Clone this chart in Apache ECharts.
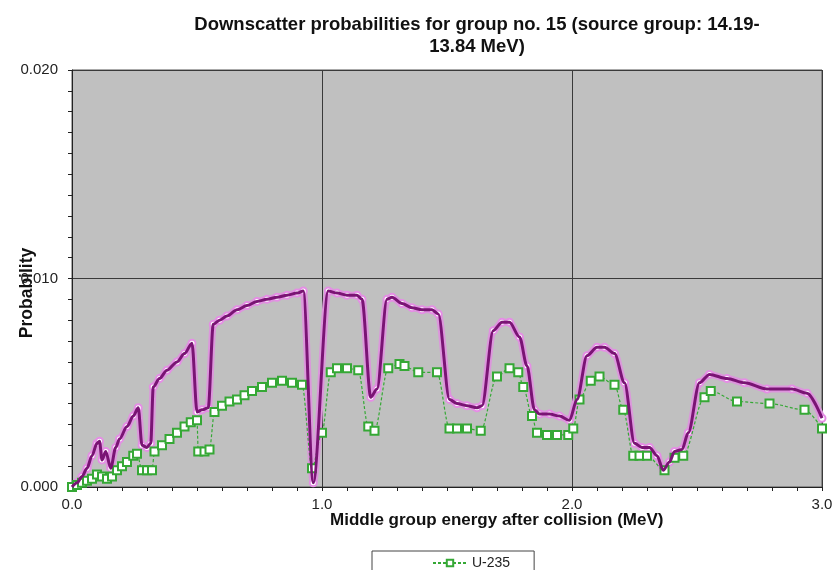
<!DOCTYPE html>
<html>
<head>
<meta charset="utf-8">
<script src="https://cdn.jsdelivr.net/npm/echarts@6/dist/echarts.min.js"></script>
<style>
  html, body { margin: 0; padding: 0; background: #ffffff; }
  #chart { width: 837px; height: 570px; }
</style>
</head>
<body>
<div id="chart"></div>
<script>
// Secondary-energy grid (MeV) and downscatter probabilities, upper curve
const upperEnergy = [
  0.00, 0.02, 0.04, 0.06, 0.08, 0.10, 0.11, 0.12, 0.135, 0.155, 0.175,
  0.19, 0.22, 0.245, 0.265, 0.28, 0.30, 0.315, 0.325, 0.35, 0.38, 0.42,
  0.45, 0.48, 0.50, 0.52, 0.545, 0.565, 0.59, 0.62, 0.66, 0.70, 0.74,
  0.78, 0.82, 0.86, 0.90, 0.925, 0.965, 1.025, 1.06, 1.10, 1.14, 1.16,
  1.195, 1.22, 1.26, 1.28, 1.32, 1.36, 1.40, 1.44, 1.465, 1.51, 1.54,
  1.58, 1.62, 1.64, 1.685, 1.72, 1.75, 1.79, 1.82, 1.85, 1.87, 1.91,
  1.95, 1.99, 2.02, 2.06, 2.10, 2.13, 2.17, 2.21, 2.25, 2.28, 2.31,
  2.34, 2.365, 2.39, 2.41, 2.44, 2.465, 2.51, 2.55, 2.62, 2.69, 2.78,
  2.88, 2.94, 3.00
];
const upperProb = [
  0.0000, 0.0002, 0.0005, 0.0009, 0.0015, 0.0021, 0.0022, 0.0013, 0.0017, 0.0009, 0.0019,
  0.0023, 0.0029, 0.0034, 0.0038, 0.0020, 0.0019, 0.0021, 0.0048, 0.0052, 0.0056, 0.0060,
  0.0064, 0.0069, 0.0036, 0.0037, 0.0038, 0.0078, 0.0080, 0.0082, 0.0085, 0.0087, 0.0089,
  0.0090, 0.0091, 0.0092, 0.0093, 0.0094, 0.0002, 0.0094, 0.0093, 0.0092, 0.0092, 0.0090,
  0.0043, 0.0047, 0.0090, 0.0091, 0.0088, 0.0086, 0.0085, 0.0085, 0.0083, 0.0042, 0.0040,
  0.0039, 0.0038, 0.0039, 0.0075, 0.0079, 0.0079, 0.0072, 0.0058, 0.0037, 0.0035, 0.0035,
  0.0034, 0.0032, 0.0042, 0.0063, 0.0067, 0.0067, 0.0064, 0.0050, 0.0021, 0.0019, 0.0019,
  0.0015, 0.0008, 0.0012, 0.0017, 0.0018, 0.0026, 0.0050, 0.0054, 0.0052, 0.0050, 0.0047,
  0.0047, 0.0045, 0.0033
];

// U-235 curve
const u235Energy = [
  0.00, 0.02, 0.04, 0.06, 0.08, 0.10, 0.12, 0.14, 0.16, 0.18, 0.20,
  0.22, 0.245, 0.26, 0.28, 0.30, 0.32, 0.33, 0.36, 0.39, 0.42, 0.45,
  0.475, 0.50, 0.505, 0.53, 0.55, 0.57, 0.60, 0.63, 0.66, 0.69, 0.72,
  0.76, 0.80, 0.84, 0.88, 0.92, 0.96, 1.00, 1.035, 1.06, 1.10, 1.145,
  1.185, 1.21, 1.265, 1.31, 1.33, 1.385, 1.46, 1.51, 1.54, 1.58, 1.635,
  1.70, 1.75, 1.785, 1.805, 1.84, 1.86, 1.90, 1.94, 1.985, 2.005, 2.03,
  2.075, 2.11, 2.17, 2.205, 2.245, 2.27, 2.30, 2.37, 2.41, 2.445, 2.53,
  2.555, 2.66, 2.79, 2.93, 3.00
];
const u235Prob = [
  0.0000, 0.0001, 0.0002, 0.0003, 0.0004, 0.0006, 0.0005, 0.0004, 0.0005, 0.0008, 0.0010,
  0.0012, 0.0015, 0.0016, 0.0008, 0.0008, 0.0008, 0.0017, 0.0020, 0.0023, 0.0026, 0.0029,
  0.0031, 0.0032, 0.0017, 0.0017, 0.0018, 0.0036, 0.0039, 0.0041, 0.0042, 0.0044, 0.0046,
  0.0048, 0.0050, 0.0051, 0.0050, 0.0049, 0.0009, 0.0026, 0.0055, 0.0057, 0.0057, 0.0056,
  0.0029, 0.0027, 0.0057, 0.0059, 0.0058, 0.0055, 0.0055, 0.0028, 0.0028, 0.0028, 0.0027,
  0.0053, 0.0057, 0.0055, 0.0048, 0.0034, 0.0026, 0.0025, 0.0025, 0.0025, 0.0028, 0.0042,
  0.0051, 0.0053, 0.0049, 0.0037, 0.0015, 0.0015, 0.0015, 0.0008, 0.0014, 0.0015, 0.0043,
  0.0046, 0.0041, 0.0040, 0.0037, 0.0028
];

// Axis tick labels
const xTickLabels = ['0.0', '1.0', '2.0', '3.0'];
const yTickLabels = ['0.000', '0.010', '0.020'];

const pair = (xs, ys) => xs.map((x, i) => [x, ys[i]]);
const upperData = pair(upperEnergy, upperProb);
const u235Data = pair(u235Energy, u235Prob);

const FONT = '"Liberation Sans", Arial, sans-serif';
const chart = echarts.init(document.getElementById('chart'), null, { renderer: 'canvas' });

chart.setOption({
  animation: false,
  backgroundColor: '#ffffff',
  title: {
    text: 'Downscatter probabilities for group no. 15 (source group: 14.19-\n13.84 MeV)',
    left: 472,
    top: 9,
    textAlign: 'center',
    textStyle: {
      fontFamily: FONT, fontSize: 18.5, fontWeight: 'bold', color: '#111', lineHeight: 22, align: 'center'
    }
  },
  legend: {
    data: ['U-235'],
    left: 372,
    top: 551,
    orient: 'vertical',
    padding: [5, 24, 20, 60],
    itemWidth: 34,
    itemHeight: 8,
    borderColor: '#444',
    borderWidth: 1,
    backgroundColor: '#ffffff',
    textStyle: { fontFamily: FONT, fontSize: 14, color: '#222' }
  },
  grid: {
    left: 72, right: 15, top: 70, bottom: 83,
    show: true,
    backgroundColor: '#c0c0c0',
    borderColor: '#555',
    borderWidth: 1,
    containLabel: false
  },
  xAxis: {
    type: 'value',
    min: 0, max: 3, interval: 1,
    axisLine: { show: true, onZero: false, lineStyle: { color: '#222', width: 1 } },
    axisTick: { show: true, length: 4, lineStyle: { color: '#222' } },
    minorTick: { show: true, splitNumber: 10, length: 4, lineStyle: { color: '#222' } },
    splitLine: { show: true, lineStyle: { color: '#3a3a3a', width: 1 } },
    axisLabel: {
      fontFamily: FONT, fontSize: 15, color: '#222', margin: 10,
      formatter: v => xTickLabels[Math.round(v)]
    }
  },
  yAxis: {
    type: 'value',
    min: 0, max: 0.02, interval: 0.01,
    axisLine: { show: true, onZero: false, lineStyle: { color: '#222', width: 1 } },
    axisTick: { show: true, length: 4, lineStyle: { color: '#222' } },
    minorTick: { show: true, splitNumber: 10, length: 4, lineStyle: { color: '#222' } },
    splitLine: { show: true, lineStyle: { color: '#3a3a3a', width: 1 } },
    axisLabel: {
      fontFamily: FONT, fontSize: 15, color: '#222', margin: 14,
      formatter: v => yTickLabels[Math.round(v / 0.01)]
    }
  },
  graphic: [
    {
      type: 'text',
      left: 330, top: 512,
      style: {
        text: 'Middle group energy after collision (MeV)',
        font: 'bold 17px ' + FONT, fill: '#111'
      }
    },
    {
      type: 'text',
      x: 27, y: 293,
      rotation: Math.PI / 2,
      style: {
        text: 'Probability',
        font: 'bold 17.5px ' + FONT, fill: '#111',
        align: 'center', verticalAlign: 'middle'
      }
    }
  ],
  series: [
    {
      // pink halo and circle markers under the upper curve
      name: 'upper-halo',
      type: 'line',
      data: upperData,
      smooth: 0.3,
      smoothMonotone: 'x',
      symbol: 'emptyCircle',
      symbolSize: 7,
      showAllSymbol: true,
      itemStyle: { color: '#e58ee5', borderColor: '#e58ee5', borderWidth: 1 },
      lineStyle: { color: '#dc96dc', width: 7 },
      z: 2,
      silent: true
    },
    {
      name: 'upper',
      type: 'line',
      data: upperData,
      smooth: 0.3,
      smoothMonotone: 'x',
      showSymbol: false,
      lineStyle: { color: '#7a1474', width: 3 },
      z: 4,
      silent: true
    },
    {
      name: 'U-235',
      type: 'line',
      data: u235Data,
      smooth: 0.3,
      smoothMonotone: 'x',
      symbol: 'emptyRect',
      symbolSize: 8,
      showAllSymbol: true,
      itemStyle: { color: '#35a835', borderColor: '#35a835', borderWidth: 1 },
      lineStyle: { color: '#35a835', width: 1.2, type: [3, 2] },
      z: 3
    }
  ]
});
</script>
</body>
</html>
